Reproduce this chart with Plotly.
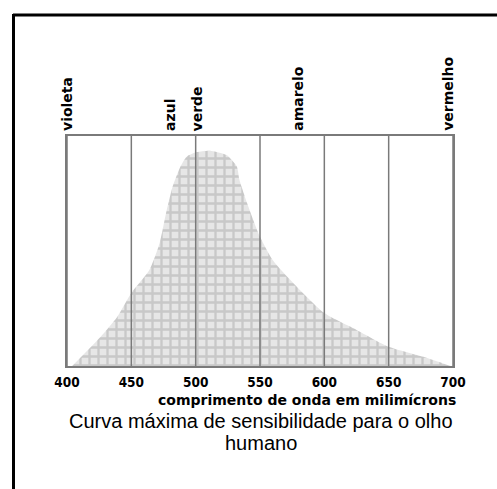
import plotly.graph_objects as go

# Relative sensitivity of the eye across the visible spectrum
wavelength_nm = [404, 426, 439, 450, 464, 472, 477, 482, 488, 493, 501, 511,
                 524, 532, 534, 540, 550, 560, 576, 600, 625, 650, 677, 698]
sensitivity = [0.0, 0.126, 0.213, 0.317, 0.417, 0.535, 0.665, 0.778, 0.865, 0.91,
               0.93, 0.936, 0.917, 0.867, 0.81, 0.708, 0.562, 0.46, 0.36, 0.23,
               0.157, 0.084, 0.04, 0.0]

tick_values = [400, 450, 500, 550, 600, 650, 700]

# Colour names and where they sit on the wavelength scale
color_names = ["violeta", "azul", "verde", "amarelo", "vermelho"]
color_positions = [400, 480, 501, 579, 696]

caption_lines = ["Curva máxima de sensibilidade para o olho", "humano"]

W, H = 497, 489
L, R, T, B = 67, 44, 136, 123
pw, ph = W - L - R, H - T - B


def px_to_paper_x(px):
    return (px - L) / pw


def py_to_paper_y(py):
    return (H - B - py) / ph


fig = go.Figure()
fig.add_trace(go.Scatter(
    x=wavelength_nm, y=sensitivity, mode="lines",
    line=dict(color="rgba(0,0,0,0)", width=0, shape="spline", smoothing=0.6),
    fill="tozeroy", fillcolor="#d8d8d8",
    fillpattern=dict(shape="+", fgcolor="#aaaaaa", bgcolor="#e6e6e6",
                     size=9, solidity=0.45),
    hoverinfo="skip", showlegend=False,
))

# Vertical rules at every tick, drawn over the filled curve
grid_x, grid_y = [], []
for v in tick_values:
    grid_x += [v, v, None]
    grid_y += [0, 1, None]
fig.add_trace(go.Scatter(
    x=grid_x, y=grid_y, mode="lines", line=dict(color="#7a7a7a", width=1.5),
    hoverinfo="skip", showlegend=False, cliponaxis=False,
))

for name, pos in zip(color_names, color_positions):
    fig.add_annotation(
        x=pos, y=1.0, xref="x", yref="paper", text=name, textangle=-90,
        showarrow=False, xanchor="center", yanchor="bottom", yshift=3,
        font=dict(family="DejaVu Sans", size=14, color="#000", weight="bold"),
    )

fig.add_annotation(
    x=1.0, y=py_to_paper_y(399.5), xref="paper", yref="paper", xshift=4,
    text="comprimento de onda em milimícrons", showarrow=False,
    xanchor="right", yanchor="middle", borderpad=0,
    font=dict(family="DejaVu Sans", size=14, color="#000", weight="bold"),
)
for line, cy in zip(caption_lines, [421, 443]):
    fig.add_annotation(
        x=px_to_paper_x(261), y=py_to_paper_y(cy), xref="paper", yref="paper",
        text=line, showarrow=False, xanchor="center", yanchor="middle",
        borderpad=0,
        font=dict(family="Liberation Sans", size=20, color="#000"),
    )

# Outer frame: a top and a left rule
frame = dict(color="#000", width=3)
fig.add_shape(type="line", xref="paper", yref="paper",
              x0=px_to_paper_x(13), x1=px_to_paper_x(W + 2),
              y0=py_to_paper_y(15), y1=py_to_paper_y(15), line=frame)
fig.add_shape(type="line", xref="paper", yref="paper",
              x0=px_to_paper_x(13.5), x1=px_to_paper_x(13.5),
              y0=py_to_paper_y(14), y1=py_to_paper_y(H + 2), line=frame)

fig.update_xaxes(
    range=[400, 700], tickvals=tick_values, ticktext=[str(v) for v in tick_values],
    showgrid=False,
    showline=True, linecolor="#7a7a7a", linewidth=1.5, mirror=True,
    zeroline=False, ticks="", ticklabelstandoff=3,
    tickfont=dict(family="DejaVu Sans Condensed", size=13.5, color="#000", weight="bold"),
)
fig.update_yaxes(
    range=[0, 1], showgrid=False, zeroline=False, showticklabels=False,
    showline=True, linecolor="#7a7a7a", linewidth=1.5, mirror=True,
)
fig.update_layout(
    width=W, height=H, margin=dict(l=L, r=R, t=T, b=B),
    paper_bgcolor="white", plot_bgcolor="white",
)
fig.write_html("out.html")
